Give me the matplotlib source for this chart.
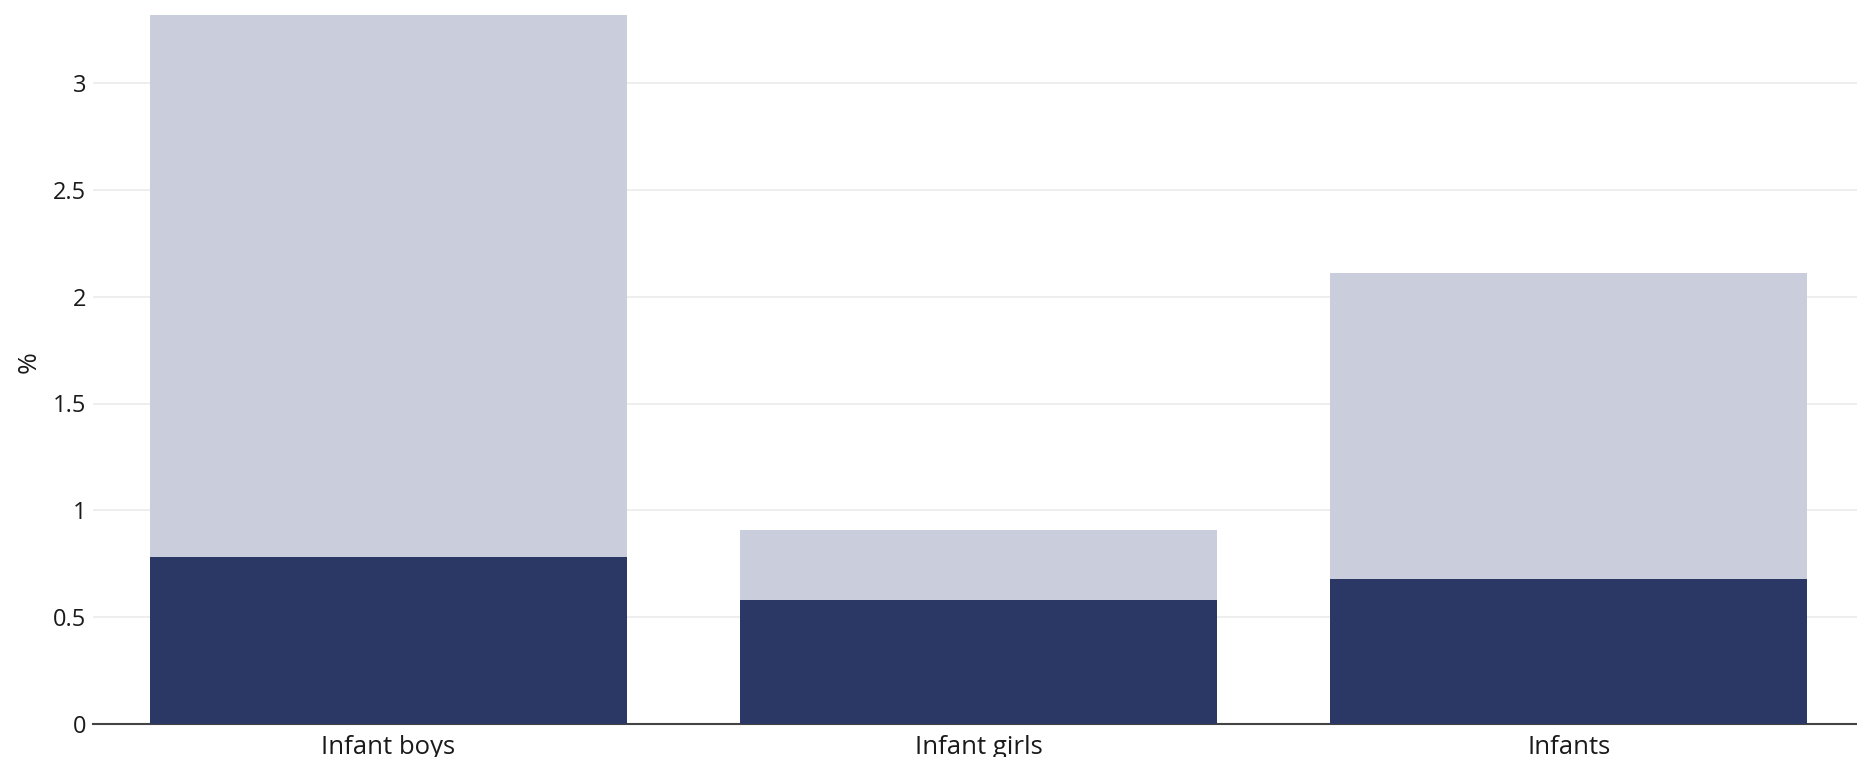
import matplotlib
matplotlib.use("Agg")
import matplotlib.pyplot as plt
import numpy as np

categories = ["Infant boys", "Infant girls", "Infants"]
dark_values = [0.78, 0.58, 0.68]
light_values = [2.54, 0.33, 1.43]
y_ticks = [0, 0.5, 1, 1.5, 2, 2.5, 3]
y_tick_labels = ["0", "0.5", "1", "1.5", "2", "2.5", "3"]

plt.rcParams['font.family'] = ['Open Sans', 'DejaVu Sans']

fig = plt.figure(figsize=(18.58, 7.57), dpi=100)
ax = fig.add_axes([93/1858, 1 - 724/757, 1 - 93/1858, 724/757])

x = np.arange(len(categories))
width = 0.808
ax.bar(x, dark_values, width=width, color="#2b3764", zorder=3)
ax.bar(x, light_values, width=width, bottom=dark_values, color="#cacddb", zorder=3)

scale = (724 - 83) / 3.0
ax.set_ylim(0, 724 / scale)
ax.set_xlim(-0.5, 2.49)

ax.set_yticks(y_ticks)
ax.set_yticklabels(y_tick_labels)
ax.set_xticks(x)
ax.set_xticklabels(categories)
ax.grid(axis='y', color="#ebebeb", linewidth=1.2, zorder=0)
ax.set_axisbelow(True)
for s in ["top", "right", "left"]:
    ax.spines[s].set_visible(False)
ax.spines["bottom"].set_color("#444444")
ax.spines["bottom"].set_linewidth(1.5)
ax.spines["bottom"].set_zorder(2)
ax.tick_params(axis='y', length=0, pad=5, labelsize=17, labelcolor="#1a1a1a")
ax.tick_params(axis='x', length=0, pad=8, labelsize=18.5, labelcolor="#1a1a1a")
ax.set_ylabel("%", fontsize=19, color="#1a1a1a", labelpad=8)

fig.savefig("out.png", dpi=100)
